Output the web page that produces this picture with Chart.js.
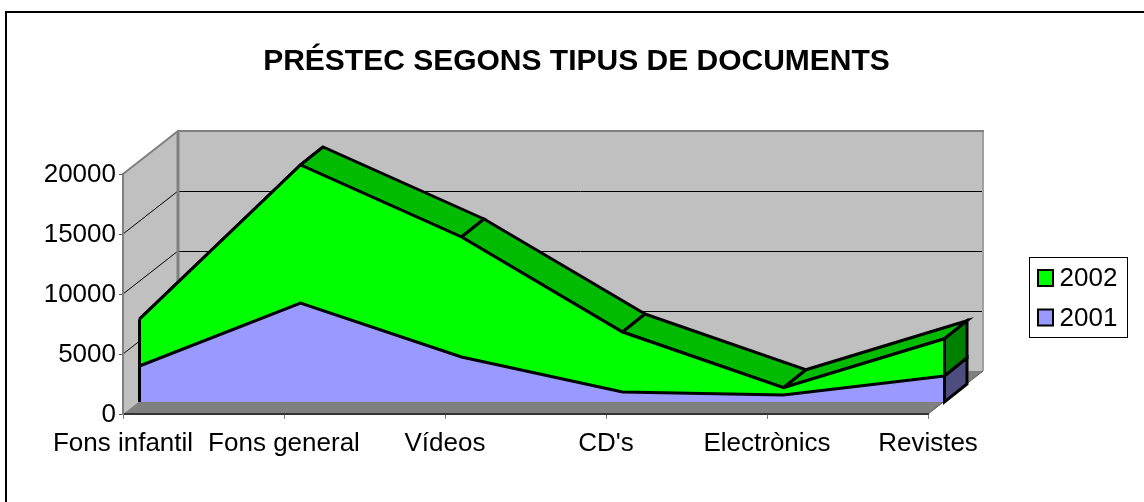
<!DOCTYPE html>
<html><head><meta charset="utf-8">
<style>html,body{margin:0;padding:0;background:#fff}canvas{display:block}</style>
<script src="https://cdn.jsdelivr.net/npm/chart.js@4"></script>
</head><body><canvas id="c" width="1144" height="502"></canvas>
<script>
const categories = ["Fons infantil","Fons general","Vídeos","CD's","Electrònics","Revistes"];
const values2001 = [3000,8250,3750,830,590,2170];
const values2002 = [3900,11500,10000,5000,600,3100];
const yTicks = [0,5000,10000,15000,20000];
const FONT = "'Liberation Sans', Arial, sans-serif";
const WALL = {dx:55, dy:-43}, FRONT = {dx:16.5, dy:-12}, BACK = {dx:39, dy:-30};

function poly(ctx, pts, fill, stroke, lw){
  ctx.beginPath();
  pts.forEach((p,i)=> i ? ctx.lineTo(p[0],p[1]) : ctx.moveTo(p[0],p[1]));
  ctx.closePath();
  if(fill){ctx.fillStyle=fill;ctx.fill();}
  if(stroke){ctx.strokeStyle=stroke;ctx.lineWidth=lw;ctx.lineJoin='miter';ctx.stroke();}
}
function seg(ctx,a,b,color,lw){
  ctx.beginPath();ctx.moveTo(a[0],a[1]);ctx.lineTo(b[0],b[1]);
  ctx.strokeStyle=color;ctx.lineWidth=lw;ctx.lineCap='butt';ctx.stroke();
}
function stackPoints(chart){
  const x=chart.scales.x,y=chart.scales.y;
  return {
    base:categories.map((c,i)=>[x.getPixelForValue(i),y.getPixelForValue(0)]),
    mid:categories.map((c,i)=>[x.getPixelForValue(i),y.getPixelForValue(values2001[i])]),
    top:categories.map((c,i)=>[x.getPixelForValue(i),y.getPixelForValue(values2001[i]+values2002[i])])
  };
}
const off=(p,o)=>[p[0]+o.dx,p[1]+o.dy];

const chart3d = {
  id:'chart3d',
  afterLayout(chart){
    chart.titleBlock.left = 9; chart.titleBlock.right = 1144;
  },
  beforeDraw(chart){
    const ctx=chart.ctx,{left:l,right:r,top:t,bottom:b}=chart.chartArea,y=chart.scales.y;
    ctx.save();
    ctx.fillStyle='#fff';ctx.fillRect(0,0,chart.width,chart.height);
    seg(ctx,[6,11],[6,502],'#000',2);
    seg(ctx,[5,12],[1144,12],'#000',2);
    // walls
    poly(ctx,[[l,t],[l+WALL.dx,t+WALL.dy],[l+WALL.dx,b+WALL.dy],[l,b]],'#C0C0C0');
    poly(ctx,[[l+WALL.dx,t+WALL.dy],[r+WALL.dx,t+WALL.dy],[r+WALL.dx,b+WALL.dy],[l+WALL.dx,b+WALL.dy]],'#C0C0C0');
    yTicks.forEach(v=>{
      if(v===20000||v===0) return;
      const py=y.getPixelForValue(v);
      seg(ctx,[l,py],[l+WALL.dx,py+WALL.dy],'#000',1);
      seg(ctx,[l+WALL.dx,Math.round(py+WALL.dy)+.5],[r+WALL.dx,Math.round(py+WALL.dy)+.5],'#000',1);
    });
    // floor
    poly(ctx,[[l,b],[l+WALL.dx,b+WALL.dy],[r+WALL.dx,b+WALL.dy],[r,b]],'#808080');
    // wall frame
    seg(ctx,[l+WALL.dx,t+WALL.dy],[l+WALL.dx,b+WALL.dy],'#808080',3);
    seg(ctx,[r+WALL.dx,t+WALL.dy],[r+WALL.dx,b+WALL.dy],'#A0A0A0',2);
    seg(ctx,[l,t],[l+WALL.dx,t+WALL.dy],'#808080',2);
    seg(ctx,[l+WALL.dx-1,t+WALL.dy],[r+WALL.dx+1,t+WALL.dy],'#808080',2);
    seg(ctx,[r,b],[r+WALL.dx,b+WALL.dy],'#555',1);
    ctx.restore();
  },
  beforeDatasetsDraw(chart){
    const ctx=chart.ctx,{base,mid,top}=stackPoints(chart),n=categories.length;
    ctx.save();
    // upper surface of the 2002 band
    for(let i=0;i<n-1;i++){
      poly(ctx,[off(top[i],FRONT),off(top[i+1],FRONT),off(top[i+1],BACK),off(top[i],BACK)],'#00BB00','#000',3);
    }
    // right end cap
    const e=n-1;
    poly(ctx,[off(top[e],FRONT),off(top[e],BACK),off(mid[e],BACK),off(mid[e],FRONT)],'#008000','#000',3);
    poly(ctx,[off(mid[e],FRONT),off(mid[e],BACK),off(base[e],BACK),off(base[e],FRONT)],'#4D4D80','#000',3);
    ctx.restore();
    // native area fills and lines are drawn in the series' front plane
    ctx.save();
    ctx.translate(FRONT.dx,FRONT.dy);
  },
  afterDatasetsDraw(chart){
    const ctx=chart.ctx,{base,top}=stackPoints(chart),e=categories.length-1;
    ctx.restore();
    ctx.save();
    seg(ctx,off(top[0],FRONT),off(base[0],FRONT),'#000',3);
    seg(ctx,off(top[e],FRONT),off(base[e],FRONT),'#000',3);
    ctx.restore();
  },
  afterDraw(chart){
    const ctx=chart.ctx,ds=chart.data.datasets;
    ctx.save();
    ctx.strokeStyle='#000';ctx.lineWidth=1;
    ctx.strokeRect(1029.5,257.5,98,80);
    [[1,270,285.5],[0,309.5,325.5]].forEach(([i,by,ty])=>{
      ctx.fillStyle=ds[i].backgroundColor;ctx.fillRect(1038,by,15,16);
      ctx.lineWidth=2;ctx.strokeRect(1038,by,15,16);
      ctx.fillStyle='#000';ctx.font='26px '+FONT;ctx.textBaseline='alphabetic';ctx.textAlign='left';
      ctx.fillText(ds[i].label,1059.5,ty);
    });
    ctx.restore();
  }
};

new Chart(document.getElementById('c'),{
  type:'line',
  data:{labels:categories,datasets:[
    {label:'2001',data:values2001,backgroundColor:'#9999FF',borderColor:'#000',borderWidth:3,fill:'origin',pointRadius:0,tension:0,clip:false,borderJoinStyle:'miter'},
    {label:'2002',data:values2002,backgroundColor:'#00FF00',borderColor:'#000',borderWidth:3,fill:'-1',pointRadius:0,tension:0,clip:false,borderJoinStyle:'miter'}
  ]},
  options:{
    responsive:false,animation:false,
    layout:{autoPadding:false,padding:{left:0,right:216,top:0,bottom:0}},
    plugins:{
      legend:{display:false},tooltip:{enabled:false},
      title:{display:true,text:'PRÉSTEC SEGONS TIPUS DE DOCUMENTS',color:'#000',
        font:{family:FONT,size:30,weight:'bold',lineHeight:1.2},padding:{top:43.5,bottom:94.5}}
    },
    scales:{
      x:{type:'category',offset:false,
        afterFit(s){s.height=88;},
        grid:{drawOnChartArea:false,drawTicks:true,tickLength:5,tickColor:'#808080',offset:false},
        border:{color:'#333',width:2},
        ticks:{color:'#000',font:{family:FONT,size:26},maxRotation:0,autoSkip:false,padding:9}},
      y:{stacked:true,min:0,max:20000,
        afterBuildTicks(s){s.ticks=yTicks.map(v=>({value:v}));},
        afterFit(s){s.width=123;},
        grid:{drawOnChartArea:false,drawTicks:true,tickLength:4,tickColor:'#555'},
        border:{color:'#808080',width:2},
        ticks:{color:'#000',font:{family:FONT,size:26},padding:3,labelOffset:1,callback:v=>String(v)}}
    }
  },
  plugins:[chart3d]
});
</script></body></html>
